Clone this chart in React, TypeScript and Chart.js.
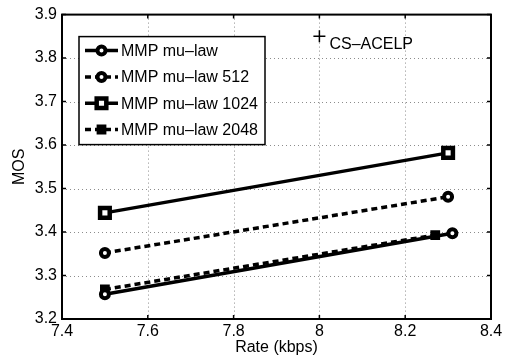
import { useEffect, useRef } from 'react';
import { Chart, registerables } from 'chart.js';

Chart.register(...registerables);

const seriesLabels = ['MMP mu–law', 'MMP mu–law 512', 'MMP mu–law 1024', 'MMP mu–law 2048'];
const muLawRates = [7.5, 8.31];
const muLawMos = [3.257, 3.397];
const mu512Rates = [7.5, 8.3];
const mu512Mos = [3.352, 3.481];
const mu1024Rates = [7.5, 8.3];
const mu1024Mos = [3.444, 3.582];
const mu2048Rates = [7.5, 8.27];
const mu2048Mos = [3.268, 3.393];
const refLabel = 'CS–ACELP';
const refRates = [8.0];
const refMos = [3.85];

const xTicks = [7.4, 7.6, 7.8, 8.0, 8.2, 8.4];
const xTickLabels = ['7.4', '7.6', '7.8', '8', '8.2', '8.4'];
const yTicks = [3.2, 3.3, 3.4, 3.5, 3.6, 3.7, 3.8, 3.9];
const yTickLabels = ['3.2', '3.3', '3.4', '3.5', '3.6', '3.7', '3.8', '3.9'];

const FONT = 'Liberation Sans, Arial, Helvetica, sans-serif';
const FS = 16;
const toPts = (xs: number[], ys: number[]) => xs.map((x, i) => ({ x, y: ys[i] }));
const labelFor = (ticks: number[], labels: string[], v: number) => {
  const i = ticks.findIndex((t) => Math.abs(t - v) < 1e-6);
  return i >= 0 ? labels[i] : '';
};

function drawMarker(ctx: CanvasRenderingContext2D, style: string, x: number, y: number, r: number, bw: number, fill: string) {
  ctx.save();
  ctx.setLineDash([]);
  ctx.lineWidth = bw;
  ctx.strokeStyle = '#000';
  ctx.fillStyle = fill;
  ctx.beginPath();
  if (style === 'circle') {
    ctx.arc(x, y, r, 0, Math.PI * 2);
  } else {
    const s = Math.SQRT1_2 * r;
    ctx.rect(x - s, y - s, 2 * s, 2 * s);
  }
  ctx.fill();
  ctx.stroke();
  ctx.restore();
}

const framePlugin = {
  id: 'framePlugin',
  beforeDatasetsDraw(chart: any) {
    const { ctx, chartArea: a, scales } = chart;
    const x = scales.x;
    const y = scales.y;
    ctx.save();
    ctx.strokeStyle = '#8c8c8c';
    ctx.lineWidth = 1;
    ctx.setLineDash([1, 3]);
    for (const t of xTicks) {
      const px = Math.round(x.getPixelForValue(t)) + 0.5;
      if (px < a.left + 2 || px > a.right - 2) continue;
      ctx.beginPath();
      ctx.moveTo(px, a.top);
      ctx.lineTo(px, a.bottom);
      ctx.stroke();
    }
    for (const t of yTicks) {
      const py = Math.round(y.getPixelForValue(t)) + 0.5;
      if (py < a.top + 2 || py > a.bottom - 2) continue;
      ctx.beginPath();
      ctx.moveTo(a.left, py);
      ctx.lineTo(a.right, py);
      ctx.stroke();
    }
    ctx.restore();
  },
  afterDatasetsDraw(chart: any) {
    const { ctx, chartArea: a, scales } = chart;
    const x = scales.x;
    const y = scales.y;
    ctx.save();
    ctx.setLineDash([]);
    ctx.strokeStyle = '#000';
    ctx.lineWidth = 1.5;
    const tl = 4;
    for (const t of xTicks) {
      const px = x.getPixelForValue(t);
      ctx.beginPath();
      ctx.moveTo(px, a.bottom);
      ctx.lineTo(px, a.bottom - tl);
      ctx.moveTo(px, a.top);
      ctx.lineTo(px, a.top + tl);
      ctx.stroke();
    }
    for (const t of yTicks) {
      const py = y.getPixelForValue(t);
      ctx.beginPath();
      ctx.moveTo(a.left, py);
      ctx.lineTo(a.left + tl, py);
      ctx.moveTo(a.right, py);
      ctx.lineTo(a.right - tl, py);
      ctx.stroke();
    }
    ctx.lineWidth = 2;
    ctx.strokeRect(a.left, a.top, a.right - a.left, a.bottom - a.top);

    // reference point label
    const rx = x.getPixelForValue(refRates[0]);
    const ry = y.getPixelForValue(refMos[0]);
    ctx.fillStyle = '#000';
    ctx.font = `${FS}px ${FONT}`;
    ctx.textBaseline = 'middle';
    ctx.textAlign = 'left';
    ctx.fillText(refLabel, rx + 10, ry + 8);

    // legend
    const lx = a.left + 17;
    const ly = a.top + 22;
    const lw = 186;
    const lh = 108;
    ctx.fillStyle = '#fff';
    ctx.fillRect(lx, ly, lw, lh);
    ctx.strokeStyle = '#000';
    ctx.lineWidth = 1.5;
    ctx.strokeRect(lx, ly, lw, lh);
    chart.data.datasets.slice(0, 4).forEach((ds: any, i: number) => {
      const cy = ly + 14 + i * 26.3;
      ctx.save();
      ctx.strokeStyle = '#000';
      ctx.lineWidth = 3.5;
      ctx.setLineDash(ds.borderDash || []);
      ctx.beginPath();
      ctx.moveTo(lx + 6, cy);
      ctx.lineTo(lx + 39, cy);
      ctx.stroke();
      ctx.restore();
      drawMarker(ctx, ds.pointStyle, lx + 22.5, cy, ds.pointRadius, ds.pointBorderWidth, ds.pointBackgroundColor);
      ctx.fillStyle = '#000';
      ctx.font = `${FS}px ${FONT}`;
      ctx.textBaseline = 'middle';
      ctx.textAlign = 'left';
      ctx.fillText(ds.label, lx + 42, cy + 1);
    });
    ctx.restore();
  },
};

export default function App() {
  const ref = useRef<HTMLCanvasElement | null>(null);
  useEffect(() => {
    document.body.style.margin = '0';
    const canvas = ref.current;
    if (!canvas) return;
    const line = (label: string, xs: number[], ys: number[], dash: number[], style: string, r: number, bw: number, fill: string) => ({
      label,
      data: toPts(xs, ys),
      borderColor: '#000',
      borderWidth: 3.5,
      borderDash: dash,
      borderCapStyle: 'butt',
      pointStyle: style,
      pointRadius: r,
      pointBorderWidth: bw,
      pointBorderColor: '#000',
      pointBackgroundColor: fill,
      showLine: true,
      fill: false,
      tension: 0,
    });
    const tickFont = { family: FONT, size: FS };
    const chart = new Chart(canvas, {
      type: 'line',
      data: {
        datasets: [
          line(seriesLabels[0], muLawRates, muLawMos, [], 'circle', 4, 4, '#fff'),
          line(seriesLabels[1], mu512Rates, mu512Mos, [6, 4], 'circle', 4, 4, '#fff'),
          line(seriesLabels[2], mu1024Rates, mu1024Mos, [], 'rect', 6.8, 4.5, '#fff'),
          line(seriesLabels[3], mu2048Rates, mu2048Mos, [6, 4], 'rect', 5.5, 2, '#000'),
          {
            label: refLabel,
            data: toPts(refRates, refMos),
            showLine: false,
            pointStyle: 'cross',
            pointRadius: 6,
            pointBorderWidth: 1.5,
            pointBorderColor: '#000',
            borderColor: '#000',
          },
        ] as any,
      },
      options: {
        animation: false,
        responsive: false,
        devicePixelRatio: 1,
        layout: { padding: { top: 14, right: 18, left: 0, bottom: 0 } },
        plugins: { legend: { display: false }, tooltip: { enabled: false } },
        scales: {
          x: {
            type: 'linear',
            min: 7.4,
            max: 8.4,
            afterBuildTicks: (s: any) => {
              s.ticks = xTicks.map((v) => ({ value: v }));
            },
            afterFit: (s: any) => {
              s.height = 41;
            },
            ticks: {
              color: '#000',
              font: tickFont,
              padding: 3,
              maxRotation: 0,
              autoSkip: false,
              callback: (v: any) => labelFor(xTicks, xTickLabels, Number(v)),
            },
            grid: { display: false, drawTicks: false },
            border: { display: false },
            title: { display: true, text: 'Rate (kbps)', color: '#000', font: tickFont, padding: { top: 0, bottom: 3 } },
          },
          y: {
            type: 'linear',
            min: 3.2,
            max: 3.9,
            afterBuildTicks: (s: any) => {
              s.ticks = yTicks.map((v) => ({ value: v }));
            },
            afterFit: (s: any) => {
              s.width = 62;
            },
            ticks: {
              color: '#000',
              font: tickFont,
              padding: 5,
              autoSkip: false,
              callback: (v: any) => labelFor(yTicks, yTickLabels, Number(v)),
            },
            grid: { display: false, drawTicks: false },
            border: { display: false },
            title: { display: true, text: 'MOS', color: '#000', font: tickFont, padding: { top: 10, bottom: 0 } },
          },
        },
      } as any,
      plugins: [framePlugin],
    });
    return () => chart.destroy();
  }, []);
  return (
    <div style={{ width: 509, height: 360, background: '#fff' }}>
      <canvas ref={ref} width={509} height={360} style={{ display: 'block', width: 509, height: 360 }} />
    </div>
  );
}
